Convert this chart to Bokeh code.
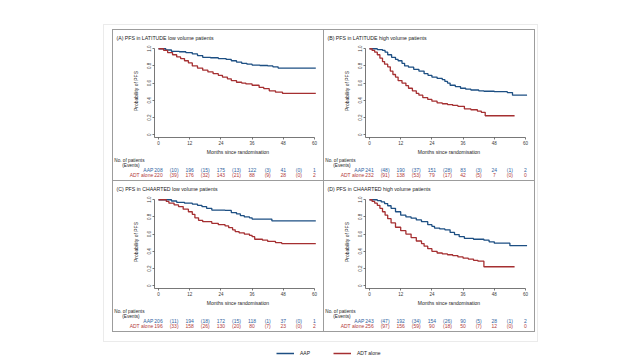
from bokeh.plotting import figure
from bokeh.layouts import column, row
from bokeh.models import Range1d, FixedTicker, Legend, LegendItem, Spacer
from bokeh.core.properties import value
from bokeh.embed import file_html
from bokeh.resources import INLINE

FONT = "Liberation Sans"
BLUE = "#1d4f83"
RED = "#a52f31"
TBLUE = "#2f63a0"
TRED = "#b23a3a"
GREY = "#3a3a3a"

# ---------------- data ----------------
titles = [
    "(A) PFS in LATITUDE low volume patients",
    "(B) PFS in LATITUDE high volume patients",
    "(C) PFS in CHAARTED low volume patients",
    "(D) PFS in CHAARTED high volume patients",
]
series_names = ["AAP", "ADT alone"]

x_ticks = [0, 12, 24, 36, 48, 60]
y_ticks = [0, 0.2, 0.4, 0.6, 0.8, 1.0]
y_tick_labels = {0: "0", 0.2: "0.2", 0.4: "0.4", 0.6: "0.6", 0.8: "0.8", 1.0: "1.0"}

months_risk = [0, 12, 24, 36, 48, 60]
months_events = [6, 18, 30, 42, 54]

# Panel A: LATITUDE low volume
A_aap_t = [0, 2.8, 5, 8, 10.5, 13, 15, 17, 20, 23, 26, 28, 30, 32, 34, 36, 39, 42, 44, 46, 60.5]
A_aap_s = [1.0, 0.985, 0.97, 0.965, 0.955, 0.94, 0.92, 0.90, 0.895, 0.885, 0.875, 0.86, 0.845, 0.83, 0.82, 0.81, 0.805, 0.80, 0.79, 0.775, 0.775]
A_adt_t = [0, 2, 3.5, 5.4, 7, 8.5, 10, 11.5, 13, 15, 17, 19, 21, 23, 24.6, 26.5, 28, 30, 32, 33.6, 36, 38.7, 40.5, 42.6, 45, 47.7, 60.5]
A_adt_s = [1.0, 0.98, 0.955, 0.93, 0.905, 0.885, 0.86, 0.835, 0.80, 0.775, 0.75, 0.73, 0.71, 0.69, 0.67, 0.65, 0.63, 0.61, 0.60, 0.59, 0.575, 0.55, 0.535, 0.51, 0.495, 0.48, 0.48]
A_aap_risk = [208, 196, 175, 122, 41, 1]
A_aap_events = [10, 15, 13, 3, 0]
A_adt_risk = [220, 176, 143, 88, 28, 2]
A_adt_events = [39, 32, 21, 9, 0]

# Panel B: LATITUDE high volume
B_aap_t = [0, 3, 5, 6, 7, 8.5, 10, 11, 12.5, 13.5, 15, 17, 19, 21, 22.5, 24, 26, 28, 29, 30, 31, 33, 35, 37, 39, 42, 44, 48, 53, 55, 60.6]
B_aap_s = [1.0, 0.99, 0.98, 0.96, 0.93, 0.90, 0.875, 0.86, 0.83, 0.80, 0.785, 0.76, 0.74, 0.71, 0.69, 0.67, 0.655, 0.64, 0.62, 0.60, 0.575, 0.56, 0.54, 0.53, 0.52, 0.51, 0.505, 0.50, 0.49, 0.46, 0.46]
B_adt_t = [0, 1, 2, 3, 4, 5, 5.8, 7, 8, 9, 10, 11, 12.5, 14, 15, 16.5, 18, 19, 20.5, 22.4, 24, 26, 28, 30, 32, 34, 36.5, 39, 41.5, 43, 44.5, 55.8]
B_adt_s = [1.0, 0.98, 0.96, 0.93, 0.89, 0.85, 0.82, 0.79, 0.74, 0.70, 0.67, 0.63, 0.60, 0.57, 0.54, 0.51, 0.48, 0.46, 0.43, 0.41, 0.39, 0.37, 0.36, 0.35, 0.34, 0.33, 0.30, 0.29, 0.275, 0.26, 0.22, 0.22]
B_aap_risk = [241, 190, 151, 83, 24, 2]
B_aap_events = [48, 37, 28, 3, 1]
B_adt_risk = [232, 138, 79, 42, 7, 0]
B_adt_events = [91, 53, 17, 5, 0]

# Panel C: CHAARTED low volume
C_aap_t = [0, 5, 7, 10, 13, 15, 16.7, 18.5, 20.5, 23, 25.6, 28, 30, 31.5, 33, 35, 36, 40, 43.6, 60.5]
C_aap_s = [1.0, 0.985, 0.97, 0.96, 0.95, 0.935, 0.92, 0.90, 0.88, 0.878, 0.875, 0.85, 0.835, 0.815, 0.80, 0.79, 0.775, 0.775, 0.755, 0.755]
C_adt_t = [0, 3, 4, 6, 7.7, 9.5, 11.5, 13, 14, 15.4, 17, 20.5, 23, 25.6, 27, 28.5, 29.5, 31, 33, 35, 36, 37, 40, 42, 45, 47.4, 60.5]
C_adt_s = [1.0, 0.98, 0.96, 0.94, 0.92, 0.89, 0.86, 0.83, 0.79, 0.76, 0.745, 0.725, 0.71, 0.695, 0.675, 0.65, 0.63, 0.615, 0.60, 0.585, 0.57, 0.54, 0.53, 0.515, 0.50, 0.49, 0.49]
C_aap_risk = [206, 194, 172, 118, 37, 1]
C_aap_events = [11, 18, 15, 1, 0]
C_adt_risk = [196, 158, 130, 80, 23, 2]
C_adt_events = [33, 26, 20, 7, 0]

# Panel D: CHAARTED high volume
D_aap_t = [0, 3, 4.5, 5.8, 7, 8.3, 10, 12, 14, 16, 18, 20, 22.4, 24, 25, 27, 29, 31, 32.7, 34.5, 36.5, 40, 44, 46, 48, 53, 54, 60.6]
D_aap_s = [1.0, 0.99, 0.975, 0.955, 0.93, 0.90, 0.86, 0.82, 0.80, 0.785, 0.765, 0.745, 0.71, 0.69, 0.67, 0.66, 0.65, 0.62, 0.595, 0.57, 0.55, 0.54, 0.53, 0.51, 0.495, 0.495, 0.465, 0.465]
D_adt_t = [0, 1, 2, 3, 4, 5, 6, 7, 8.3, 10, 12, 14, 16, 18, 20, 21, 22.4, 24, 26, 28, 30, 32, 34, 36, 38, 40, 41.7, 44, 55.8]
D_adt_s = [1.0, 0.98, 0.96, 0.935, 0.90, 0.86, 0.82, 0.78, 0.73, 0.68, 0.64, 0.60, 0.56, 0.52, 0.49, 0.46, 0.43, 0.40, 0.38, 0.37, 0.36, 0.35, 0.335, 0.32, 0.31, 0.295, 0.285, 0.22, 0.22]
D_aap_risk = [243, 192, 154, 90, 28, 2]
D_aap_events = [47, 34, 26, 5, 1]
D_adt_risk = [256, 156, 90, 50, 12, 0]
D_adt_events = [97, 59, 18, 7, 0]

panels_data = [
    (titles[0], A_aap_t, A_aap_s, A_adt_t, A_adt_s, A_aap_risk, A_aap_events, A_adt_risk, A_adt_events),
    (titles[1], B_aap_t, B_aap_s, B_adt_t, B_adt_s, B_aap_risk, B_aap_events, B_adt_risk, B_adt_events),
    (titles[2], C_aap_t, C_aap_s, C_adt_t, C_adt_s, C_aap_risk, C_aap_events, C_adt_risk, C_adt_events),
    (titles[3], D_aap_t, D_aap_s, D_adt_t, D_adt_s, D_aap_risk, D_aap_events, D_adt_risk, D_adt_events),
]

# ---------------- geometry ----------------
W = 210            # panel inner width
TITLE_H = 14
KM_H = 113
TAB_H = 23
ORIGIN = 45        # px from panel left where month 0 sits
PPM = 2.6          # px per month
LEFT_B = 41
RIGHT_B = 2
BOTTOM_B = 14
X0 = (LEFT_B - ORIGIN) / PPM
X1 = (W - RIGHT_B - ORIGIN) / PPM
FRAME_H = KM_H - BOTTOM_B
Y_UNIT = 91.5
Y0 = -3 / Y_UNIT
Y1 = 1 + (FRAME_H - 3 - Y_UNIT) / Y_UNIT
TX0 = -ORIGIN / PPM
TX1 = (W - ORIGIN) / PPM


def fig(**kw):
    f = figure(toolbar_location=None, output_backend="svg", frame_align=False, **kw)
    f.outline_line_color = None
    f.grid.visible = False
    f.background_fill_color = "white"
    f.border_fill_color = "white"
    return f


def make_panel(title, at, as_, dt, ds, ar, ae, dr, de, border):
    tf = fig(width=W, height=TITLE_H, x_range=Range1d(0, W), y_range=Range1d(0, TITLE_H),
             min_border=0, x_axis_location=None, y_axis_location=None)
    tf.text(x=[3], y=[TITLE_H / 2 - 0.5], text=[title], text_font=value(FONT), text_font_size="5.2px",
            text_align="left", text_baseline="middle", text_color="#222222")

    p = fig(width=W, height=KM_H, x_range=Range1d(X0, X1), y_range=Range1d(Y0, Y1),
            min_border_left=LEFT_B, min_border_right=RIGHT_B, min_border_top=0,
            min_border_bottom=BOTTOM_B)
    p.step(at, as_, mode="after", line_color=BLUE, line_width=1.3)
    p.step(dt, ds, mode="after", line_color=RED, line_width=1.3)

    for ax in (p.xaxis[0], p.yaxis[0]):
        ax.axis_line_color = "#555555"
        ax.axis_line_width = 0.8
        ax.major_tick_line_color = "#555555"
        ax.major_tick_line_width = 0.8
        ax.major_tick_out = 2
        ax.major_tick_in = 0
        ax.minor_tick_line_color = None
        ax.major_label_text_font = FONT
        ax.major_label_text_font_size = "4.5px"
        ax.major_label_text_color = GREY
        ax.axis_label_text_font = FONT
        ax.axis_label_text_font_size = "5px"
        ax.axis_label_text_font_style = "normal"
        ax.axis_label_text_color = "#222222"
        ax.major_label_standoff = 1
    p.xaxis.ticker = FixedTicker(ticks=x_ticks)
    p.xaxis.bounds = (X0, 60)
    p.xaxis.axis_label = "Months since randomisation"
    p.xaxis.axis_label_standoff = 1
    p.yaxis.ticker = FixedTicker(ticks=y_ticks)
    p.yaxis.major_label_overrides = y_tick_labels
    p.yaxis.major_label_orientation = "vertical"
    p.yaxis.bounds = (Y0, 1.0)
    p.yaxis.axis_label = "Probability of PFS"
    p.yaxis.axis_label_standoff = 6

    t = fig(width=W, height=TAB_H, x_range=Range1d(TX0, TX1), y_range=Range1d(2.1, -2.5),
            min_border=0, x_axis_location=None, y_axis_location=None)
    t.text(x=[-11.2, -10.6], y=[-1.85, -1.0], text=["No. of patients", "(Events)"],
           text_font=value(FONT), text_font_size="4.7px", text_align="center",
           text_baseline="middle", text_color="#222222")
    t.text(x=[-2, -2], y=[0, 1], text=series_names, text_font=value(FONT), text_font_size="5px",
           text_align="right", text_baseline="middle", text_color=[TBLUE, TRED])
    xs, ys, txt, cols = [], [], [], []
    for ri, (risk, ev, col) in enumerate([(ar, ae, TBLUE), (dr, de, TRED)]):
        for m, n in zip(months_risk, risk):
            xs.append(m); ys.append(ri); txt.append(str(n)); cols.append(col)
        for m, n in zip(months_events, ev):
            xs.append(m); ys.append(ri); txt.append("(%d)" % n); cols.append(col)
    t.text(x=xs, y=ys, text=txt, text_color=cols, text_font=value(FONT), text_font_size="5px",
           text_align="center", text_baseline="middle")

    return column(tf, p, t, styles=border)


LINE = "1px solid #9c9c9c"
borders = [
    {"border": LINE},
    {"border-top": LINE, "border-right": LINE, "border-bottom": LINE},
    {"border-left": LINE, "border-right": LINE, "border-bottom": LINE},
    {"border-right": LINE, "border-bottom": LINE},
]
pans = [make_panel(*d, border=b) for d, b in zip(panels_data, borders)]
grid = column(row(pans[0], pans[1]), row(pans[2], pans[3]))

wrapper = column(Spacer(height=4), row(Spacer(width=8), grid, Spacer(width=2)), Spacer(height=9),
                 styles={"border": "1px solid #ebebeb"})

LEG_H = 18
lf = fig(width=640, height=LEG_H, x_range=Range1d(0, 1), y_range=Range1d(0, 1), min_border=0,
         x_axis_location=None, y_axis_location=None)
# legend key renderers (kept outside the visible range)
r1 = lf.line(x=[-2, -1], y=[-2, -2], line_color=BLUE, line_width=1.5)
r2 = lf.line(x=[-2, -1], y=[-2, -2], line_color=RED, line_width=1.5)
leg = Legend(items=[LegendItem(label=series_names[0], renderers=[r1]),
                    LegendItem(label=series_names[1], renderers=[r2])],
             orientation="horizontal", location=(276, 3), glyph_width=18, glyph_height=8,
             label_height=8, label_width=10, label_standoff=6, spacing=23, padding=1, margin=0,
             border_line_color=None, background_fill_alpha=0,
             label_text_font=FONT, label_text_font_size="5px", label_text_color="#222222")
lf.add_layout(leg)

root = column(Spacer(height=24), row(Spacer(width=103), wrapper), lf)

open("out.html", "w").write(file_html(root, INLINE))
